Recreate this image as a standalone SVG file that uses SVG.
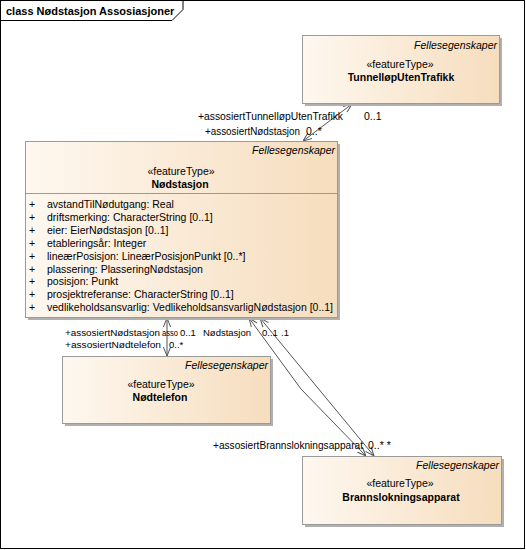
<svg xmlns="http://www.w3.org/2000/svg" width="526" height="550" viewBox="0 0 526 550">
<style>
text{font-family:"Liberation Sans",Arial,sans-serif;font-size:10.5px;fill:#000}
.b{font-weight:bold}
.i{font-style:italic}
.m{text-anchor:middle}
.e{text-anchor:end}
.s{font-size:9.5px}
.box{fill:url(#g);stroke:#9a9a9a;stroke-width:1}
.sh{fill:#b0b0b0}
.c{fill:none;stroke:#555;stroke-width:1}
</style>
<defs>
<linearGradient id="g" x1="0" y1="0" x2="1" y2="0">
<stop offset="0" stop-color="#FEF8F0"/>
<stop offset="1" stop-color="#F6DDBD"/>
</linearGradient>
<marker id="a" viewBox="0 0 10 10" refX="10" refY="5" markerWidth="9" markerHeight="9" markerUnits="userSpaceOnUse" orient="auto-start-reverse">
<path d="M0,1 L10,5 L0,9" fill="none" stroke="#555" stroke-width="1.1"/>
</marker>
</defs>
<rect x="0.5" y="0.5" width="524" height="548" fill="#fff" stroke="#000"/>
<path d="M0.5,20.5 H172 L183,9.5 V0.5" fill="none" stroke="#000"/>
<text class="b" x="6" y="15" style="font-size:11px">class Nødstasjon Assosiasjoner</text>

<g id="connectors">
<path class="c" d="M352,104 L303,141" marker-start="url(#a)" marker-end="url(#a)"/>
<path class="c" d="M167,318 V356" marker-start="url(#a)" marker-end="url(#a)"/>
<path class="c" d="M249,318 L301,389 L366,456" marker-start="url(#a)" marker-end="url(#a)"/>
<path class="c" d="M260,318 L374,456" marker-start="url(#a)" marker-end="url(#a)"/>
<text x="198" y="120" textLength="145" lengthAdjust="spacingAndGlyphs">+assosiertTunnelløpUtenTrafikk</text>
<text x="364" y="120">0..1</text>
<text x="205" y="135" textLength="95" lengthAdjust="spacingAndGlyphs">+assosiertNødstasjon</text>
<text x="306" y="135">0..*</text>
<text class="s" x="65" y="336" textLength="95" lengthAdjust="spacingAndGlyphs">+assosiertNødstasjon</text>
<text class="s" x="162" y="336" textLength="16" lengthAdjust="spacingAndGlyphs">asso</text>
<text class="s" x="180" y="336">0..1</text>
<text class="s" x="203" y="336" textLength="48" lengthAdjust="spacingAndGlyphs">Nødstasjon</text>
<text class="s" x="262" y="336">0..1</text>
<text class="s" x="281" y="336">.1</text>
<text class="s" x="65" y="348" textLength="96" lengthAdjust="spacingAndGlyphs">+assosiertNødtelefon</text>
<text class="s" x="169" y="348">0..*</text>
<text x="213" y="449" textLength="150" lengthAdjust="spacingAndGlyphs">+assosiertBrannslokningsapparat</text>
<text x="368" y="449">0..* *</text>
</g>

<g id="TunnelloepUtenTrafikk">
<rect class="sh" x="305" y="38" width="197" height="68"/>
<rect class="box" x="302.5" y="35.5" width="197" height="68"/>
<text class="i e" x="497" y="49">Fellesegenskaper</text>
<text class="m" x="400" y="68">«featureType»</text>
<text class="b m" x="401" y="81">TunnelløpUtenTrafikk</text>
</g>

<g id="Noedstasjon">
<rect class="sh" x="28" y="144" width="312" height="176"/>
<rect class="box" x="25.5" y="141.5" width="312" height="176"/>
<line x1="25.5" y1="193.5" x2="337.5" y2="193.5" stroke="#9a9a9a"/>
<text class="i e" x="335" y="154">Fellesegenskaper</text>
<text class="m" x="181" y="175">«featureType»</text>
<text class="b m" x="180" y="188">Nødstasjon</text>
<g>
<text x="29" y="208">+</text><text x="47" y="208">avstandTilNødutgang: Real</text>
<text x="29" y="221">+</text><text x="47" y="221">driftsmerking: CharacterString [0..1]</text>
<text x="29" y="234">+</text><text x="47" y="234">eier: EierNødstasjon [0..1]</text>
<text x="29" y="247">+</text><text x="47" y="247">etableringsår: Integer</text>
<text x="29" y="260">+</text><text x="47" y="260">lineærPosisjon: LineærPosisjonPunkt [0..*]</text>
<text x="29" y="273">+</text><text x="47" y="273">plassering: PlasseringNødstasjon</text>
<text x="29" y="285">+</text><text x="47" y="285">posisjon: Punkt</text>
<text x="29" y="298">+</text><text x="47" y="298">prosjektreferanse: CharacterString [0..1]</text>
<text x="29" y="311">+</text><text x="47" y="311">vedlikeholdsansvarlig: VedlikeholdsansvarligNødstasjon [0..1]</text>
</g>
</g>

<g id="Noedtelefon">
<rect class="sh" x="65" y="359" width="208" height="67"/>
<rect class="box" x="62.5" y="356.5" width="208" height="67"/>
<text class="i e" x="268" y="369">Fellesegenskaper</text>
<text class="m" x="161" y="388">«featureType»</text>
<text class="b m" x="160" y="401">Nødtelefon</text>
</g>

<g id="Brannslokningsapparat">
<rect class="sh" x="305" y="459" width="199" height="68"/>
<rect class="box" x="302.5" y="456.5" width="199" height="68"/>
<text class="i e" x="499" y="469">Fellesegenskaper</text>
<text class="m" x="400" y="487">«featureType»</text>
<text class="b m" x="401" y="501">Brannslokningsapparat</text>
</g>
</svg>
